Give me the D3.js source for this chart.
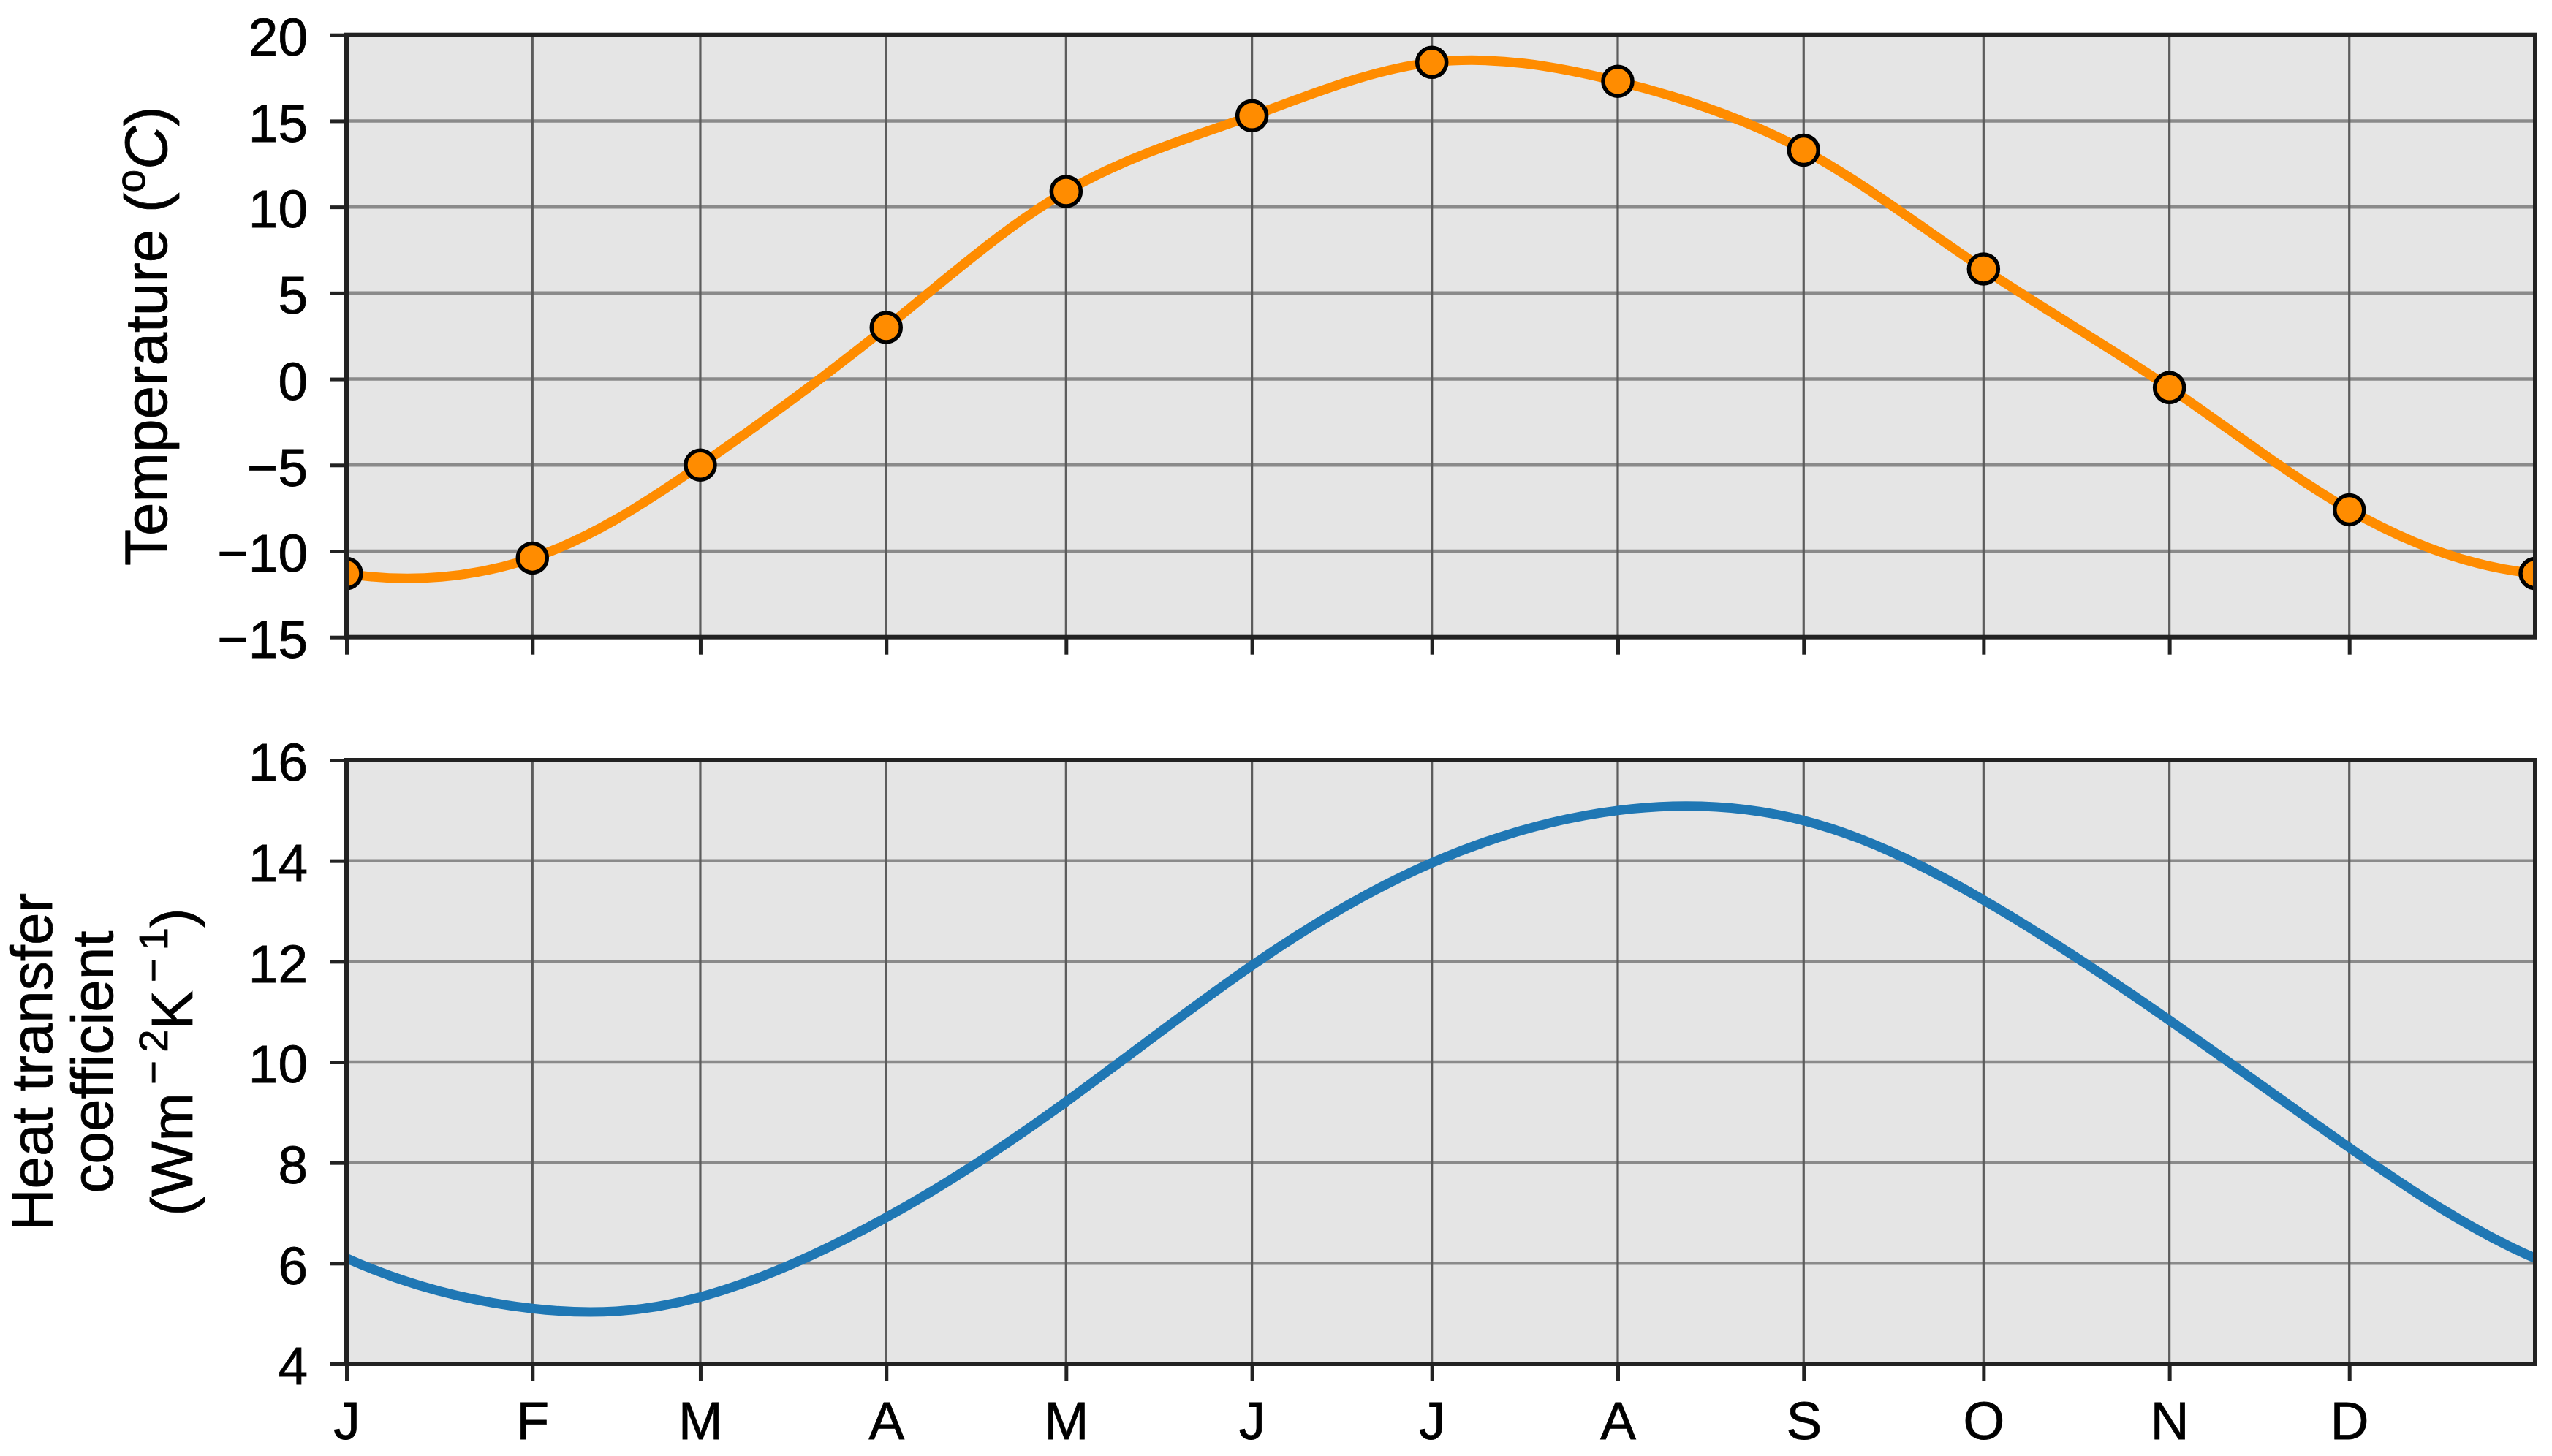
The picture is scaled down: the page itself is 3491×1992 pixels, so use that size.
<!DOCTYPE html>
<html><head><meta charset="utf-8">
<script src="https://cdn.jsdelivr.net/npm/d3@7"></script>
<style>
body{margin:0;background:#fff}
text{font-family:"Liberation Sans",Arial,Helvetica,sans-serif;fill:#000;stroke:#000;stroke-width:0.8px}
</style>
</head><body>
<svg id="chart" width="3491" height="1992"></svg>
<script>
// ---------- data ----------
const monthLabels = ["J","F","M","A","M","J","J","A","S","O","N","D"];
const monthStartDays = [0,31,59,90,120,151,181,212,243,273,304,334];
const pointDays = [0,31,59,90,120,151,181,212,243,273,304,334,365];
const temperature = [-11.3,-10.4,-5.0,3.0,10.9,15.3,18.4,17.3,13.3,6.4,-0.5,-7.6,-11.3];
const heatTransfer = [6.10,5.10,5.33,6.91,9.21,11.92,13.96,15.0,14.8,13.22,10.83,8.30,6.10];
const tempTicks = [-15,-10,-5,0,5,10,15,20];
const htcTicks = [4,6,8,10,12,14,16];

// ---------- layout ----------
const W = 3491, H = 1992;
const left = 474, right = 3468;
const top1 = 47.7, bot1 = 871.7;
const top2 = 1040, bot2 = 1866;
const FS = 73;

const svg = d3.select("#chart");
svg.append("rect").attr("width", W).attr("height", H).attr("fill", "#fff");

const x = d3.scaleLinear().domain([0, 365]).range([left, right]);
const y1 = d3.scaleLinear().domain([-15, 20]).range([bot1, top1]);
const y2 = d3.scaleLinear().domain([4, 16]).range([bot2, top2]);

// periodic extension so the spline behaves like a yearly cycle
function extended(vals) {
  const pts = pointDays.map((d, i) => ({d, v: vals[i]}));
  return [{d: pointDays[11] - 365, v: vals[11]}, ...pts, {d: pointDays[1] + 365, v: vals[1]}];
}

function panel(id, y, yTop, yBot, ticks, vals, color, markers, showXLabels) {
  const g = svg.append("g");
  g.append("clipPath").attr("id", id).append("rect")
    .attr("x", left).attr("y", yTop).attr("width", right - left).attr("height", yBot - yTop);
  g.append("rect").attr("x", left).attr("y", yTop).attr("width", right - left)
    .attr("height", yBot - yTop).attr("fill", "#e5e5e5");
  // grid
  g.append("g").selectAll("line").data(ticks).join("line")
    .attr("x1", left).attr("x2", right).attr("y1", d => y(d)).attr("y2", d => y(d))
    .attr("stroke", "#8a8a8a").attr("stroke-width", 4.5);
  g.append("g").selectAll("line").data(monthStartDays).join("line")
    .attr("x1", d => x(d)).attr("x2", d => x(d)).attr("y1", yTop).attr("y2", yBot)
    .attr("stroke", "#5c5c5c").attr("stroke-width", 3.2);
  // series
  const line = d3.line().x(p => x(p.d)).y(p => y(p.v)).curve(d3.curveNatural);
  const inner = g.append("g").attr("clip-path", `url(#${id})`);
  inner.append("path").datum(extended(vals)).attr("d", line)
    .attr("fill", "none").attr("stroke", color).attr("stroke-width", 13);
  if (markers) {
    inner.selectAll("circle").data(pointDays.map((d, i) => ({d, v: vals[i]}))).join("circle")
      .attr("cx", p => x(p.d)).attr("cy", p => y(p.v)).attr("r", 20)
      .attr("fill", color).attr("stroke", "#000").attr("stroke-width", 5.5);
  }
  // spines
  g.append("rect").attr("x", left).attr("y", yTop).attr("width", right - left)
    .attr("height", yBot - yTop).attr("fill", "none").attr("stroke", "#222").attr("stroke-width", 6);
  // y axis
  const ya = g.append("g").attr("transform", `translate(${left},0)`)
    .call(d3.axisLeft(y).tickValues(ticks).tickSize(22).tickPadding(31).tickFormat(d => d < 0 ? "\u2212" + Math.abs(d) : d));
  ya.select(".domain").remove();
  ya.selectAll(".tick line").attr("stroke", "#222").attr("stroke-width", 5);
  ya.selectAll(".tick text").attr("font-size", FS).attr("dy", "0.38em")
    .style("font-family", "'Liberation Sans', Arial, sans-serif");
  // x axis
  const xa = g.append("g").attr("transform", `translate(0,${yBot})`)
    .call(d3.axisBottom(x).tickValues(monthStartDays).tickSize(24).tickPadding(27)
      .tickFormat((d, i) => showXLabels ? monthLabels[i] : ""));
  xa.select(".domain").remove();
  xa.selectAll(".tick line").attr("stroke", "#222").attr("stroke-width", 5);
  xa.selectAll(".tick text").attr("font-size", FS)
    .style("font-family", "'Liberation Sans', Arial, sans-serif");
}

panel("clip1", y1, top1, bot1, tempTicks, temperature, "#ff8c00", true, false);
panel("clip2", y2, top2, bot2, htcTicks, heatTransfer, "#1f77b4", false, true);

// ---------- axis titles ----------
const t1 = svg.append("text").attr("transform", `translate(228,${(top1 + bot1) / 2}) rotate(-90)`)
  .attr("text-anchor", "middle").attr("font-size", 82);
t1.append("tspan").text("Temperature (");
t1.append("tspan").attr("font-size", 57).attr("dy", -30).text("o");
t1.append("tspan").attr("dy", 30).attr("font-style", "italic").text("C");
t1.append("tspan").text(")");

const cy2 = (top2 + bot2) / 2;
svg.append("text").attr("transform", `translate(71,${cy2}) rotate(-90)`)
  .attr("text-anchor", "middle").attr("font-size", 80).text("Heat transfer");
svg.append("text").attr("transform", `translate(154,${cy2}) rotate(-90)`)
  .attr("text-anchor", "middle").attr("font-size", 80).text("coefficient");
const t3 = svg.append("text").attr("transform", `translate(263,${cy2}) rotate(-90)`)
  .attr("text-anchor", "middle").attr("font-size", 80);
t3.append("tspan").text("(Wm");
t3.append("tspan").attr("font-size", 56).attr("dy", -34).text("\u2009\u2212\u20092");
t3.append("tspan").attr("dy", 34).text("K");
t3.append("tspan").attr("font-size", 56).attr("dy", -34).text("\u2009\u2212\u20091");
t3.append("tspan").attr("dy", 34).text(")");
</script>
</body></html>
